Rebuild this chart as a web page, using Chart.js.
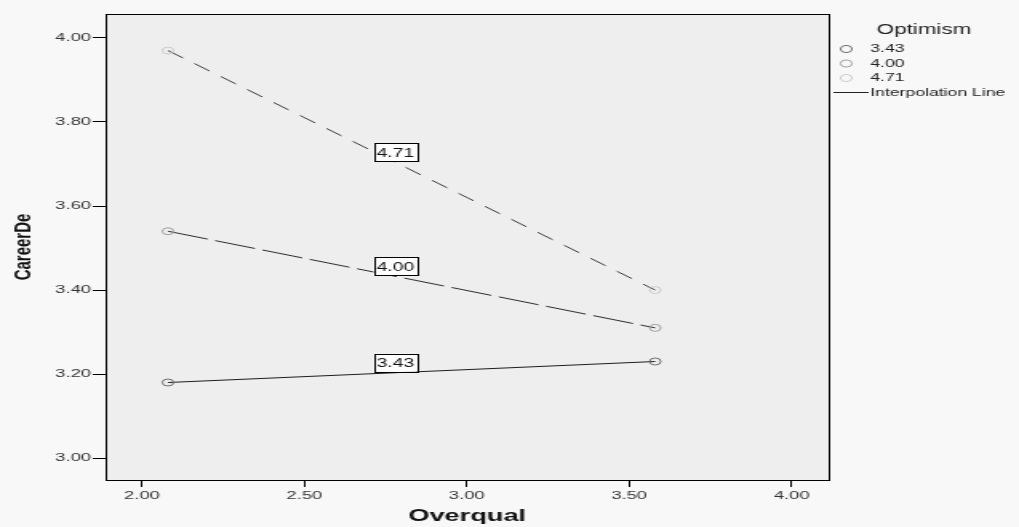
<!DOCTYPE html>
<html lang="en">
<head>
    <meta charset="UTF-8">
    <title>CareerDe by Overqual</title>
    <style>
        body {
            margin: 0;
            background: #f8f8f8;
            overflow: hidden;
        }
        /* the source picture is stretched sideways, so draw narrow and stretch */
        .chart-container {
            width: 637px;
            height: 527px;
            transform: scale(1.5997, 1);
            transform-origin: 0 0;
        }
    </style>
    <script src="https://cdn.jsdelivr.net/npm/chart.js"></script>
</head>
<body>
    <div class="chart-container">
        <canvas id="plotChart" width="637" height="527"></canvas>
    </div>

    <script>
        // values
        const overqual = [2.08, 3.58];
        const groupNames = ['3.43', '4.00', '4.71'];
        const career343 = [3.18, 3.23];
        const career400 = [3.54, 3.31];
        const career471 = [3.97, 3.40];
        const xTicks = [2.00, 2.50, 3.00, 3.50, 4.00];
        const yTicks = [3.00, 3.20, 3.40, 3.60, 3.80, 4.00];
        const labelAt = 2.78;

        const lineColors = ['#1e1e1e', '#2e2e2e', '#3a3a3a'];
        const pointColors = ['#6e6e6e', '#a0a0a0', '#cccccc'];
        const dashes = [[], [26, 5], [12, 9]];

        function toPoints(ys) {
            return overqual.map((x, i) => ({ x: x, y: ys[i] }));
        }

        const datasets = [career343, career400, career471].map((ys, i) => ({
            label: groupNames[i],
            data: toPoints(ys),
            showLine: true,
            borderColor: lineColors[i],
            borderWidth: 1,
            borderDash: dashes[i],
            pointRadius: 3.5,
            pointBorderColor: pointColors[i],
            pointBackgroundColor: 'rgba(0,0,0,0)',
            pointBorderWidth: 1
        }));

        // plot background and full frame
        const frame = {
            id: 'frame',
            beforeDraw(chart) {
                const a = chart.chartArea, ctx = chart.ctx;
                ctx.save();
                ctx.fillStyle = '#eeeeee';
                ctx.fillRect(a.left, a.top, a.right - a.left, a.bottom - a.top);
                ctx.restore();
            },
            afterDraw(chart) {
                const a = chart.chartArea, ctx = chart.ctx;
                ctx.save();
                ctx.strokeStyle = '#000';
                ctx.lineWidth = 1;
                ctx.strokeRect(a.left + 0.5, a.top + 0.5, a.right - a.left, a.bottom - a.top);
                ctx.restore();
            }
        };

        // boxed group labels sitting on each line
        const lineLabels = {
            id: 'lineLabels',
            afterDatasetsDraw(chart) {
                const ctx = chart.ctx;
                const xs = chart.scales.x, ys = chart.scales.y;
                ctx.save();
                ctx.font = '12px "Liberation Sans", Arial, sans-serif';
                ctx.textAlign = 'center';
                ctx.textBaseline = 'middle';
                chart.data.datasets.forEach(ds => {
                    const p0 = ds.data[0], p1 = ds.data[1];
                    const t = (labelAt - p0.x) / (p1.x - p0.x);
                    const v = p0.y + t * (p1.y - p0.y);
                    const px = xs.getPixelForValue(labelAt);
                    const py = ys.getPixelForValue(v) - 10;
                    const w = 27, h = 18;
                    ctx.fillStyle = '#ffffff';
                    ctx.fillRect(px - w / 2, py - h / 2, w, h);
                    ctx.strokeStyle = '#000';
                    ctx.lineWidth = 1;
                    ctx.strokeRect(Math.round(px - w / 2) + 0.5, Math.round(py - h / 2) + 0.5, w, h);
                    ctx.fillStyle = '#111';
                    ctx.fillText(ds.label, px, py + 1);
                });
                ctx.restore();
            }
        };

        // SPSS style legend on the right
        const sideLegend = {
            id: 'sideLegend',
            afterDraw(chart) {
                const ctx = chart.ctx;
                ctx.save();
                ctx.fillStyle = '#222';
                ctx.textBaseline = 'middle';
                ctx.textAlign = 'left';
                ctx.font = '14px "Liberation Sans", Arial, sans-serif';
                ctx.fillText('Optimism', 548, 30);
                ctx.font = '11px "Liberation Sans", Arial, sans-serif';
                groupNames.forEach((name, i) => {
                    const y = 49 + i * 14.5;
                    ctx.beginPath();
                    ctx.arc(529, y, 3.6, 0, Math.PI * 2);
                    ctx.strokeStyle = pointColors[i];
                    ctx.lineWidth = 1;
                    ctx.stroke();
                    ctx.fillStyle = '#222';
                    ctx.fillText(name, 544, y);
                });
                ctx.beginPath();
                ctx.moveTo(521, 92.5);
                ctx.lineTo(543, 92.5);
                ctx.strokeStyle = '#222';
                ctx.stroke();
                ctx.fillText('Interpolation Line', 544, 93);
                ctx.restore();
            }
        };

        const tickFont = { family: '"Liberation Sans", Arial, sans-serif', size: 11.5 };

        new Chart(document.getElementById('plotChart').getContext('2d'), {
            type: 'scatter',
            data: { datasets: datasets },
            plugins: [frame, lineLabels, sideLegend],
            options: {
                responsive: false,
                animation: false,
                devicePixelRatio: 1,
                layout: { padding: { left: 6, right: 119, top: 14, bottom: 0 } },
                plugins: {
                    legend: { display: false },
                    tooltip: { enabled: false }
                },
                scales: {
                    x: {
                        type: 'linear',
                        min: 1.888,
                        max: 4.114,
                        afterBuildTicks: s => { s.ticks = xTicks.map(v => ({ value: v })); },
                        afterFit: s => { s.height = 47; },
                        border: { display: false },
                        grid: { drawOnChartArea: false, tickLength: 7, tickColor: '#000' },
                        ticks: {
                            padding: 2,
                            color: '#333',
                            font: tickFont,
                            callback: v => Number(v).toFixed(2)
                        },
                        title: {
                            display: true,
                            text: 'Overqual',
                            color: '#111',
                            padding: { top: 0, bottom: 0 },
                            font: { family: '"Liberation Sans", Arial, sans-serif', size: 17, weight: 'bold' }
                        }
                    },
                    y: {
                        type: 'linear',
                        min: 2.948,
                        max: 4.057,
                        afterBuildTicks: s => { s.ticks = yTicks.map(v => ({ value: v })); },
                        afterFit: s => { s.width = 60; },
                        border: { display: false },
                        grid: { drawOnChartArea: false, tickLength: 8, tickColor: '#000' },
                        ticks: {
                            padding: 1,
                            color: '#333',
                            font: tickFont,
                            callback: v => Number(v).toFixed(2)
                        },
                        title: {
                            display: true,
                            text: 'CareerDe',
                            color: '#111',
                            padding: { top: 0, bottom: 0 },
                            font: { family: '"Liberation Sans", Arial, sans-serif', size: 15, weight: 'bold' }
                        }
                    }
                }
            }
        });
    </script>
</body>
</html>
